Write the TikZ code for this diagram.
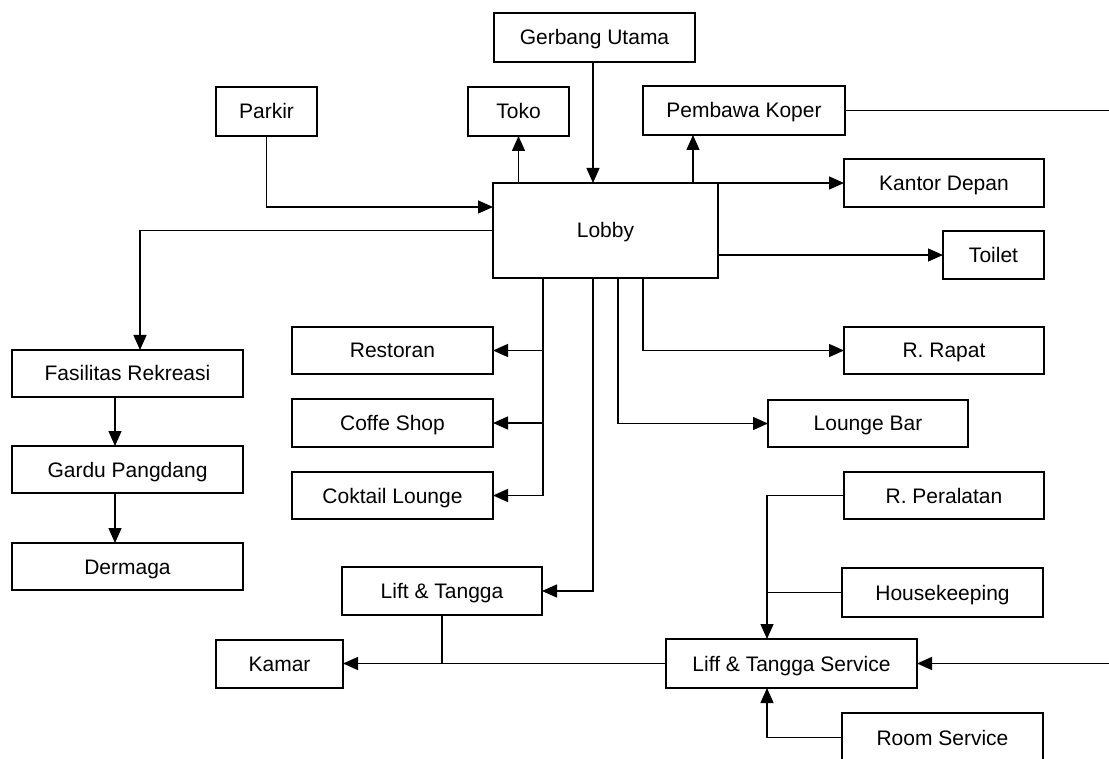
\documentclass[tikz,border=0pt]{standalone}
\usepackage{fontspec}
\setmainfont{Liberation Sans}
\usetikzlibrary{arrows.meta}
\begin{document}
\begin{tikzpicture}[x=1pt,y=-1pt,
  box/.style={draw, line width=2pt, inner sep=0pt, outer sep=0pt, minimum height=48pt,
    text height=17pt, text depth=2pt, font=\fontsize{21}{25}\selectfont},
  arr/.style={line width=1.4pt, -{Triangle[length=15pt,width=13pt]}},
  ln/.style={line width=1.4pt}]
\useasboundingbox (0,0) rectangle (1109,759);
\clip (0,0) rectangle (1109,759);
\coordinate (eR) at (1109,0);
% nodes
\node[box, minimum width=201pt, minimum height=49pt] (gerbang) at (594.5,37.5) {Gerbang Utama};
\node[box, minimum width=101pt, minimum height=49pt] (toko) at (518.5,111.5) {Toko};
\node[box, minimum width=101pt, minimum height=49pt] (parkir) at (266.5,111.5) {Parkir};
\node[box, minimum width=202pt, minimum height=49pt] (pembawa) at (744,110.5) {Pembawa Koper};
\node[box, minimum width=225pt, minimum height=95pt] (lobby) at (605.5,230.5) {Lobby};
\node[box, minimum width=200pt] (kantor) at (944,183.5) {Kantor Depan};
\node[box, minimum width=101pt] (toilet) at (993.5,255) {Toilet};
\node[box, minimum width=231pt, minimum height=47pt] (fasilitas) at (127.5,373.5) {Fasilitas Rekreasi};
\node[box, minimum width=231pt, minimum height=47pt] (gardu) at (127.5,469.5) {Gardu Pangdang};
\node[box, minimum width=231pt, minimum height=47pt] (dermaga) at (127.5,566.5) {Dermaga};
\node[box, minimum width=201pt, minimum height=47pt] (restoran) at (392.5,350.5) {Restoran};
\node[box, minimum width=201pt] (coffe) at (392.5,423) {Coffe Shop};
\node[box, minimum width=201pt, minimum height=47pt] (coktail) at (392.5,495.5) {Coktail Lounge};
\node[box, minimum width=200pt, minimum height=47pt] (rapat) at (944,350.5) {R. Rapat};
\node[box, minimum width=200pt, minimum height=47pt] (lounge) at (868,423.5) {Lounge Bar};
\node[box, minimum width=200pt] (lift) at (442,591) {Lift \& Tangga};
\node[box, minimum width=127pt] (kamar) at (279.5,663.5) {Kamar};
\node[box, minimum width=251pt, minimum height=49pt] (liff) at (791.5,663.5) {Liff \& Tangga Service};
\node[box, minimum width=200pt, minimum height=47pt] (peralatan) at (944,495.5) {R. Peralatan};
\node[box, minimum width=201pt, minimum height=49pt] (housekeeping) at (942.5,592.5) {Housekeeping};
\node[box, minimum width=201pt, minimum height=49pt] (roomservice) at (942.5,737.5) {Room Service};
% connectors
\draw[arr] ([xshift=-1.5pt]gerbang.south) -- ([xshift=-1.5pt]gerbang.south |- lobby.north);
\draw[arr] (toko.south |- lobby.north) -- (toko.south);
\draw[arr] ([xshift=-51pt]pembawa.south |- lobby.north) -- ([xshift=-51pt]pembawa.south);
\draw[arr] (lobby.north east) -- (lobby.north east -| kantor.west);
\draw[arr] (lobby.east |- toilet.west) -- (toilet.west);
\draw[ln] (pembawa.east) -- (pembawa.east -| eR);
\draw[arr] (parkir.south) |- ([yshift=-24pt]lobby.north west);
\draw[arr] (lobby.west) -| ([xshift=12.5pt]fasilitas.north);
\draw[arr] ([xshift=-12.5pt]fasilitas.south) -- ([xshift=-12.5pt]gardu.north);
\draw[arr] ([xshift=-12.5pt]gardu.south) -- ([xshift=-12.5pt]dermaga.north);
\coordinate (b1) at ([xshift=-62.5pt]lobby.south);
\draw[arr] (b1) |- (coktail.east);
\draw[arr] (b1 |- restoran.east) -- (restoran.east);
\draw[arr] (b1 |- coffe.east) -- (coffe.east);
\draw[arr] ([xshift=-12.5pt]lobby.south) |- (lift.east);
\draw[arr] ([xshift=12.5pt]lobby.south) |- (lounge.west);
\draw[arr] ([xshift=37.5pt]lobby.south) |- (rapat.west);
\draw[arr] (liff.west) -- (kamar.east);
\draw[ln] (lift.south) -- (lift.south |- kamar.east);
\draw[arr] (liff.east -| eR) -- (liff.east);
\coordinate (j1) at ([xshift=-24.5pt]liff.north);
\draw[arr] (peralatan.west) -| (j1);
\draw[ln] (housekeeping.west) -- (housekeeping.west -| j1);
\draw[arr] (roomservice.west) -| ([xshift=-24.5pt]liff.south);
\end{tikzpicture}
\end{document}
